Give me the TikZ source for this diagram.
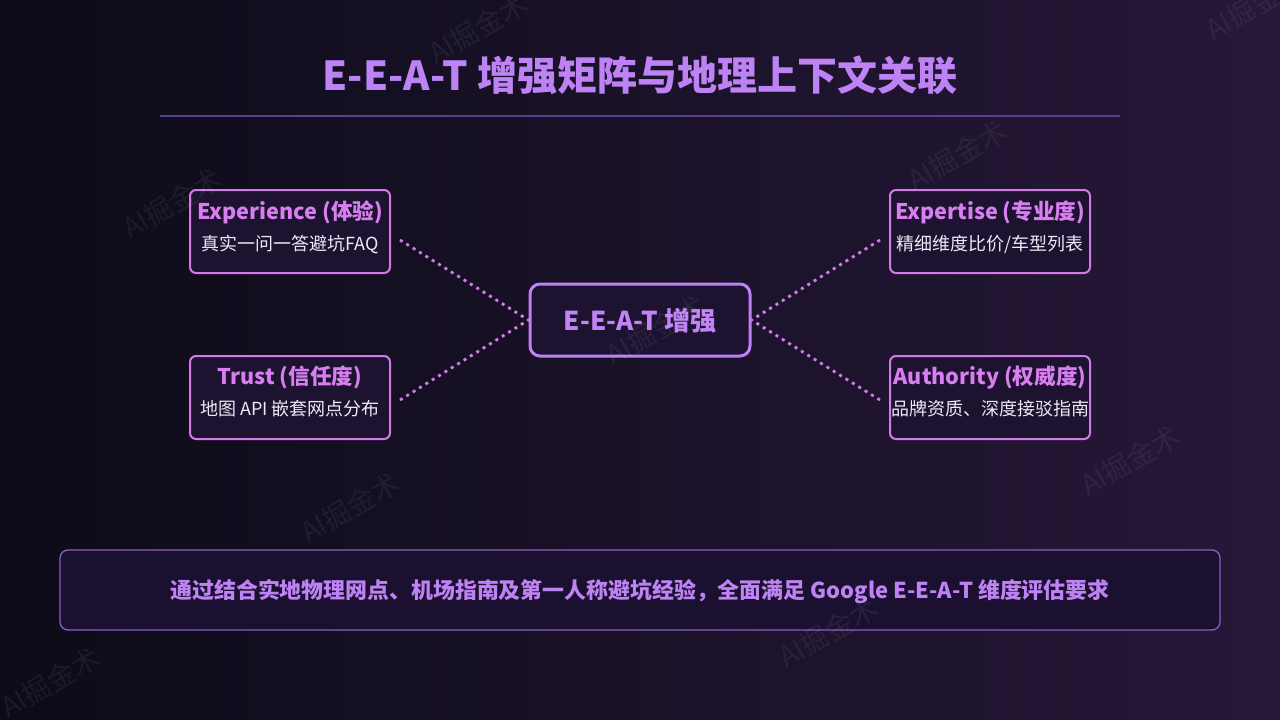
\documentclass[tikz,border=0pt]{standalone}
\usepackage{fontspec}
\setmainfont{Noto Sans CJK SC}
\usetikzlibrary{calc}
\definecolor{bgL}{HTML}{0D0B18}
\definecolor{bgR}{HTML}{261839}
\definecolor{titlec}{HTML}{BD82F3}
\definecolor{rulec}{HTML}{5B3F8A}
\definecolor{cardfill}{HTML}{1D1330}
\definecolor{cardline}{HTML}{D27AE8}
\definecolor{cardtitle}{HTML}{D97EF0}
\definecolor{subtxt}{HTML}{ECE8F4}
\definecolor{hubline}{HTML}{BE80F2}
\definecolor{hubtxt}{HTML}{C084F5}
\definecolor{footfill}{HTML}{1C1030}
\definecolor{footline}{HTML}{8A5EC4}
\definecolor{dotc}{HTML}{D27AE8}
\tikzset{
  card/.style={draw=cardline, fill=cardfill, line width=2pt, rounded corners=6pt,
    minimum width=200pt, minimum height=83pt, inner sep=0pt},
  cardtitlefont/.style={anchor=base, text=cardtitle, font=\fontsize{21.6}{26}\selectfont\bfseries, inner sep=0pt},
  cardsubfont/.style={anchor=base, text=subtxt, font=\fontsize{18}{22}\selectfont, inner sep=0pt},
  hub/.style={draw=hubline, fill=cardfill, line width=3pt, rounded corners=10pt,
    minimum width=220pt, minimum height=72pt, inner sep=0pt},
  link/.style={draw=dotc, line width=2.8pt, dash pattern=on 3pt off 4.5pt},
  wmark/.style={text=white, text opacity=0.06, rotate=30, font=\fontsize{28}{30}\selectfont, inner sep=0pt}
}
\begin{document}
\begin{tikzpicture}[x=1pt,y=-1pt]
\useasboundingbox (0,0) rectangle (1280,720);
\shade[left color=bgL,right color=bgR] (0,0) rectangle (1280,720);

% title
\node[anchor=base, text=titlec, font=\fontsize{40}{44}\selectfont\bfseries, inner sep=0pt] (title) at (640,90) {E-E-A-T 增强矩阵与地理上下文关联};
\draw[draw=rulec, line width=2pt] (160,116) coordinate (r1) -- (1120,116) coordinate (r2);

% cards
\node[card] (exp) at (290,231.5) {};
\node[cardtitlefont] (expt) at (290,219.5) {Experience (体验)};
\node[cardsubfont] (exps) at (290,250.5) {真实一问一答避坑FAQ};

\node[card] (tru) at (290,397.5) {};
\node[cardtitlefont] (trut) at (290,384) {Trust (信任度)};
\node[cardsubfont] (trus) at (290,415.5) {地图 API 嵌套网点分布};

\node[card] (expz) at (990,231.5) {};
\node[cardtitlefont] (expzt) at (990,219.5) {Expertise (专业度)};
\node[cardsubfont] (expzs) at (990,250.5) {精细维度比价/车型列表};

\node[card] (aut) at (990,397.5) {};
\node[cardtitlefont] (autt) at (990,384) {Authority (权威度)};
\node[cardsubfont] (auts) at (990,415.5) {品牌资质、深度接驳指南};

% hub
\node[hub] (hub) at (640,320) {};
\node[anchor=base, text=hubtxt, font=\fontsize{26}{30}\selectfont\bfseries, inner sep=0pt] (hubt) at (640,330) {E-E-A-T 增强};

% connectors
\coordinate (cexp) at (400,240);
\coordinate (ctru) at (400,400);
\coordinate (cexz) at (880,240);
\coordinate (caut) at (880,400);
\draw[link] (cexp) -- (hub.west);
\draw[link] (ctru) -- (hub.west);
\draw[link] (cexz) -- (hub.east);
\draw[link] (caut) -- (hub.east);

% footer
\node[draw=footline, fill=footfill, line width=1.3pt, rounded corners=8pt,
  minimum width=1160pt, minimum height=80pt, inner sep=0pt] (foot) at (640,590) {};
\node[anchor=base, text=titlec, font=\fontsize{21.9}{26}\selectfont\bfseries, inner sep=0pt] (foott) at (640,598)
  {通过结合实地物理网点、机场指南及第一人称避坑经验，全面满足 Google E-E-A-T 维度评估要求};

% watermarks
\node[wmark] (w1) at (172,203) {AI掘金术};
\node[wmark] (w2) at (478,28) {AI掘金术};
\node[wmark] (w3) at (957,155) {AI掘金术};
\node[wmark] (w4) at (655,330) {AI掘金术};
\node[wmark] (w5) at (350,507) {AI掘金术};
\node[wmark] (w6) at (1130,460) {AI掘金术};
\node[wmark] (w7) at (828,632) {AI掘金术};
\node[wmark] (w8) at (50,682) {AI掘金术};
\node[wmark] (w9) at (1255,5) {AI掘金术};
\end{tikzpicture}
\end{document}
